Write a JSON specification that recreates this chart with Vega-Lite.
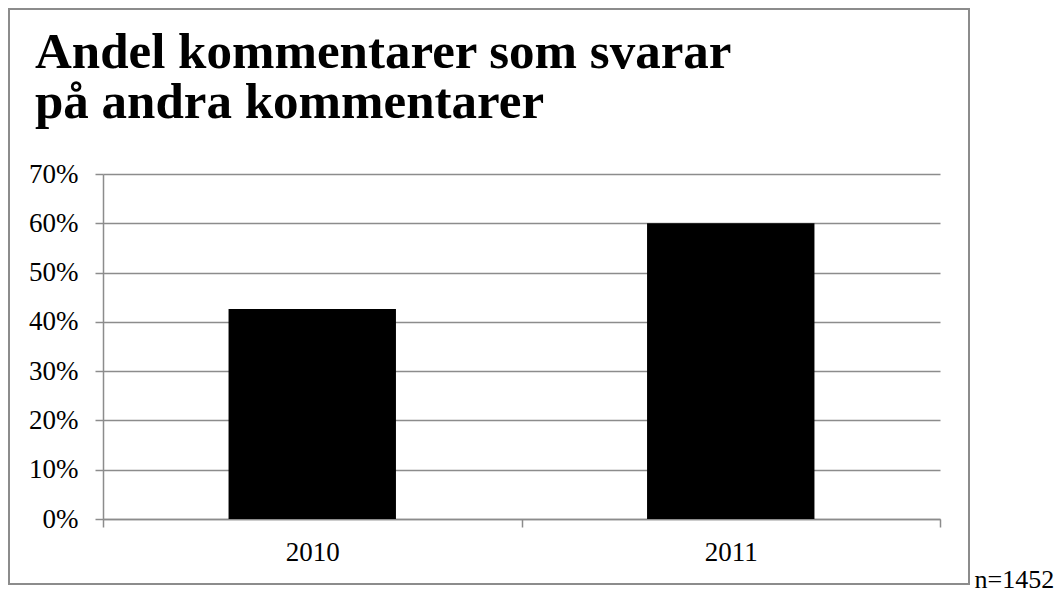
{
  "$schema": "https://vega.github.io/schema/vega-lite/v6.json",
  "width": 960,
  "height": 575,
  "autosize": {"type": "none"},
  "padding": {"left": 9, "top": 9, "right": 90, "bottom": 6},
  "background": "white",
  "title": {
    "text": ["Andel kommentarer som svarar", "på andra kommentarer"],
    "anchor": "start",
    "frame": "group",
    "font": "Liberation Serif",
    "fontSize": 51,
    "fontWeight": "bold",
    "color": "black",
    "baseline": "alphabetic",
    "lineHeight": 50,
    "offset": -55,
    "dx": 26,
    "dy": 105
  },
  "data": {
    "values": [
      {"year": "2010", "share": 0.426},
      {"year": "2011", "share": 0.60}
    ]
  },
  "mark": {"type": "bar", "color": "black", "width": {"band": 0.4}},
  "encoding": {
    "x": {
      "field": "year",
      "type": "nominal",
      "scale": {"range": [94, 931], "paddingInner": 0, "paddingOuter": 0},
      "axis": {
        "orient": "bottom",
        "offset": -65,
        "grid": false,
        "tickBand": "extent",
        "tickSize": 8,
        "tickColor": "#8c8c8c",
        "tickWidth": 1.5,
        "domainColor": "#8c8c8c",
        "domainWidth": 1.5,
        "labelAngle": 0,
        "labelFont": "Liberation Serif",
        "labelFontSize": 27,
        "labelColor": "black",
        "labelPadding": 12,
        "title": "n=1452",
        "titleFont": "Liberation Serif",
        "titleFontSize": 26,
        "titleFontWeight": "normal",
        "titleColor": "black",
        "titleX": 965,
        "titleY": 68,
        "titleAlign": "left",
        "titleBaseline": "alphabetic"
      }
    },
    "y": {
      "field": "share",
      "type": "quantitative",
      "scale": {"domain": [0, 0.7], "range": [510, 165], "nice": false, "zero": true},
      "axis": {
        "orient": "left",
        "offset": -94,
        "values": [0, 0.1, 0.2, 0.3, 0.4, 0.5, 0.6, 0.7],
        "format": ".0%",
        "grid": true,
        "gridColor": "#8c8c8c",
        "gridWidth": 1.5,
        "domainColor": "#8c8c8c",
        "domainWidth": 1.5,
        "tickColor": "#8c8c8c",
        "tickWidth": 1.5,
        "tickSize": 8,
        "labelFont": "Liberation Serif",
        "labelFontSize": 27,
        "labelColor": "black",
        "labelPadding": 17,
        "title": null
      }
    }
  },
  "config": {
    "view": {"stroke": "#8c8c8c", "strokeWidth": 2}
  }
}
